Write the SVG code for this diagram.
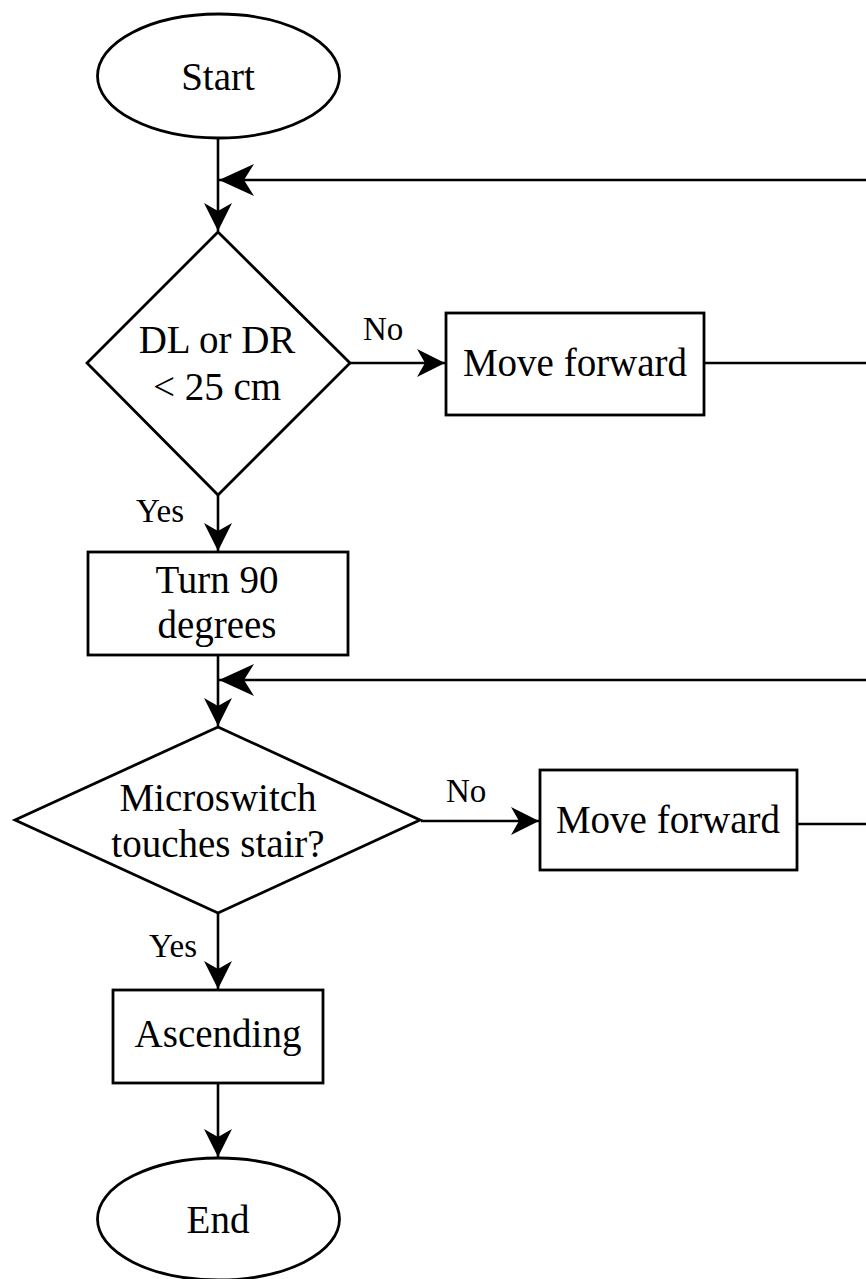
<svg xmlns="http://www.w3.org/2000/svg" width="866" height="1279" viewBox="0 0 866 1279">
  <style>
    .shape { fill: #ffffff; stroke: #000000; stroke-width: 2.8; }
    .edge { fill: none; stroke: #000000; stroke-width: 2.6; }
    .t { font-family: "Liberation Serif", "Times New Roman", serif; font-size: 39px; fill: #000000; text-anchor: middle; }
    .lbl { font-family: "Liberation Serif", "Times New Roman", serif; font-size: 33px; fill: #000000; }
  </style>
  <defs>
    <marker id="arrow" markerUnits="userSpaceOnUse" markerWidth="28" markerHeight="28" viewBox="0 0 28 28" refX="28" refY="14" orient="auto">
      <path d="M0,0 L28,14 L0,28 L8,14 Z" fill="#000000"/>
    </marker>
    <marker id="arrowBig" markerUnits="userSpaceOnUse" markerWidth="35" markerHeight="32" viewBox="0 0 35 32" refX="35" refY="16" orient="auto">
      <path d="M0,0 L35,16 L0,32 L10,16 Z" fill="#000000"/>
    </marker>
  </defs>

  <!-- connectors -->
  <g id="connectors">
    <line class="edge" x1="218" y1="138" x2="218" y2="231" marker-end="url(#arrow)"/>
    <line class="edge" x1="866" y1="180" x2="219" y2="180" marker-end="url(#arrowBig)"/>
    <line class="edge" x1="350" y1="363" x2="445" y2="363" marker-end="url(#arrow)"/>
    <line class="edge" x1="704" y1="363" x2="866" y2="363"/>
    <line class="edge" x1="218" y1="495" x2="218" y2="551" marker-end="url(#arrow)"/>
    <line class="edge" x1="218" y1="655" x2="218" y2="726" marker-end="url(#arrow)"/>
    <line class="edge" x1="866" y1="680" x2="219" y2="680" marker-end="url(#arrowBig)"/>
    <line class="edge" x1="421" y1="821" x2="539" y2="821" marker-end="url(#arrow)"/>
    <line class="edge" x1="797" y1="824" x2="866" y2="824"/>
    <line class="edge" x1="218" y1="913" x2="218" y2="989" marker-end="url(#arrow)"/>
    <line class="edge" x1="218" y1="1083" x2="218" y2="1157" marker-end="url(#arrow)"/>
    <text class="lbl" x="363" y="340">No</text>
    <text class="lbl" x="136" y="522">Yes</text>
    <text class="lbl" x="446" y="802">No</text>
    <text class="lbl" x="149" y="957">Yes</text>
  </g>

  <g id="start">
    <ellipse class="shape" cx="218.5" cy="76" rx="121" ry="62"/>
    <text class="t" x="218" y="90">Start</text>
  </g>

  <g id="check-distance">
    <polygon class="shape" points="218,232 350,363 218,495 87,363"/>
    <text class="t" x="217" y="353">DL or DR</text>
    <text class="t" x="217" y="400">&lt; 25 cm</text>
  </g>

  <g id="move-forward-1">
    <rect class="shape" x="446" y="313" width="258" height="102"/>
    <text class="t" x="575" y="376">Move forward</text>
  </g>

  <g id="turn">
    <rect class="shape" x="88" y="552" width="260" height="103"/>
    <text class="t" x="217" y="593">Turn 90</text>
    <text class="t" x="217" y="638">degrees</text>
  </g>

  <g id="check-switch">
    <polygon class="shape" points="218,727 420,820 218,913 15,820"/>
    <text class="t" x="218" y="811">Microswitch</text>
    <text class="t" x="218" y="857">touches stair?</text>
  </g>

  <g id="move-forward-2">
    <rect class="shape" x="540" y="770" width="257" height="100"/>
    <text class="t" x="668" y="833">Move forward</text>
  </g>

  <g id="ascending">
    <rect class="shape" x="113" y="990" width="210" height="93"/>
    <text class="t" x="218" y="1047">Ascending</text>
  </g>

  <g id="end">
    <ellipse class="shape" cx="218.5" cy="1219" rx="121" ry="61"/>
    <text class="t" x="218" y="1233">End</text>
  </g>
</svg>
